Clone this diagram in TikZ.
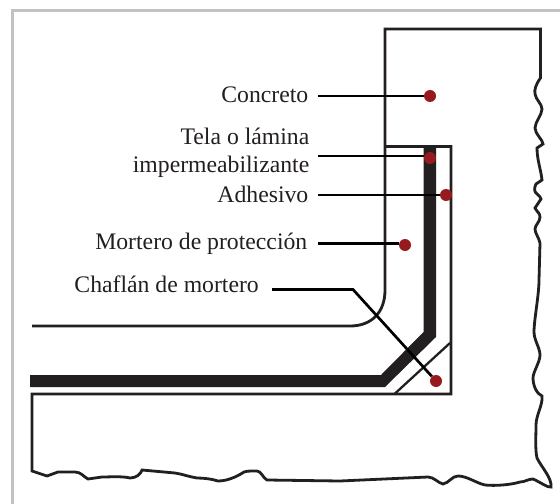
\documentclass[tikz,border=0pt]{standalone}
\usepackage{fontspec}
\setmainfont{Liberation Serif}
\definecolor{frameg}{HTML}{C2C2C4}
\definecolor{ink}{HTML}{231F20}
\definecolor{dotred}{HTML}{971B1E}
\tikzset{
  outline/.style={draw=ink,line width=2.8bp,line join=miter},
  leader/.style={draw=black,line width=2.7bp},
  reddot/.style={circle,fill=dotred,minimum size=12bp,inner sep=0pt},
  lbl/.style={font=\fontsize{23.8}{29}\selectfont,text=ink,inner sep=0pt,align=right,anchor=base east},
}
\begin{document}
\begin{tikzpicture}[x=1bp,y=-1bp]
\useasboundingbox (0,0) rectangle (560,504);
\fill[white] (0,0) rectangle (560,504);
\draw[frameg,line width=2.5bp] (560,10.5) -- (12.5,10.5) -- (12.5,504);
% concrete slab/wall
\draw[outline] (32,326) -- (350,326) .. controls (372,326) and (385,312) .. (385,290) -- (385,29) -- (540.5,29) -- (540.5,78)
 .. controls (536,84) and (534,90) .. (535,94) .. controls (536,100) and (542,104) .. (542,109)
 .. controls (542,115) and (535,122) .. (535,128) .. controls (535,134) and (543,140) .. (543,144)
 -- (537,148) .. controls (537,160) and (541,170) .. (542,180)
 -- (536,184) .. controls (534,188) and (534,192) .. (537,194) .. controls (539,196) and (541,197) .. (541,199)
 -- (535,208) .. controls (537,212) and (540,213) .. (540,217) .. controls (540,222) and (535,225) .. (535,229)
 .. controls (535,233) and (539,238) .. (540,243) -- (539,280)
 .. controls (539,295) and (534,320) .. (534,332) .. controls (534,340) and (540,348) .. (540,355)
 .. controls (540,362) and (533,372) .. (533,378) .. controls (533,386) and (537,394) .. (542,396)
 .. controls (543,405) and (536,415) .. (536,425) .. controls (536,435) and (535,450) .. (537,458)
 .. controls (542,468) and (552,478) .. (551,487) .. controls (548,488) and (540,482) .. (533,479)
 .. controls (528,479) and (525,482) .. (520,482) .. controls (510,485) and (495,486) .. (485,485)
 .. controls (476,483) and (467,476) .. (458,476) .. controls (452,476) and (449,483) .. (443,484)
 .. controls (438,483) and (434,477) .. (428,477) -- (340,481) -- (267,480)
 .. controls (263,478) and (261,471) .. (257,471) .. controls (250,471) and (247,471) .. (244,472)
 .. controls (238,476) and (228,481) .. (218,481) .. controls (212,479) and (204,478) .. (197,478)
 .. controls (190,477) and (182,474) .. (175,473) -- (142,470)
 .. controls (141,474) and (136,478) .. (130,478) .. controls (122,476) and (110,477) .. (102,477)
 -- (88,479) .. controls (84,477) and (81,472) .. (75,472) -- (58,472) -- (47,476) -- (32,471) -- (32,394) -- (451,394) -- (451,146.5) -- (386,146.5);
\draw[outline,line width=2.3bp] (395,393.5) -- (450,343);
% membrane
\fill[ink] (423.5,146) -- (436,146) -- (436,337) -- (385,387) -- (30,387) -- (30,375) -- (381,375) -- (423.5,332) -- cycle;
% labels
\node[lbl] (lc) at (308.5,103) {Concreto};
\node[lbl] (lt) at (309.5,173) {Tela o lámina\\impermeabilizante};
\node[lbl] (la) at (308.5,203) {Adhesivo};
\node[lbl] (lm) at (307.5,249) {Mortero de protección};
\node[lbl] (lh) at (259,292) {Chaflán de mortero};
% dots
\node[reddot] (dc) at (430,96) {};
\node[reddot] (dt) at (430,158) {};
\node[reddot] (da) at (446,195) {};
\node[reddot] (dm) at (405,245) {};
\node[reddot] (dh) at (436,381) {};
\coordinate (sc) at (318,96);
\coordinate (st) at (318,156);
\coordinate (sa) at (318,195);
\coordinate (sm) at (318,243.5);
\coordinate (sh) at (272,289.5);
\coordinate (bh) at (353,289.5);
% leaders
\draw[leader] (sc) -- (dc);
\draw[leader] (st) -- (st -| dt.west);
\draw[leader] (sa) -- (da);
\draw[leader] (sm) -- (sm -| dm.west);
\draw[leader] (sh) -- (bh) -- (dh);
\end{tikzpicture}
\end{document}
